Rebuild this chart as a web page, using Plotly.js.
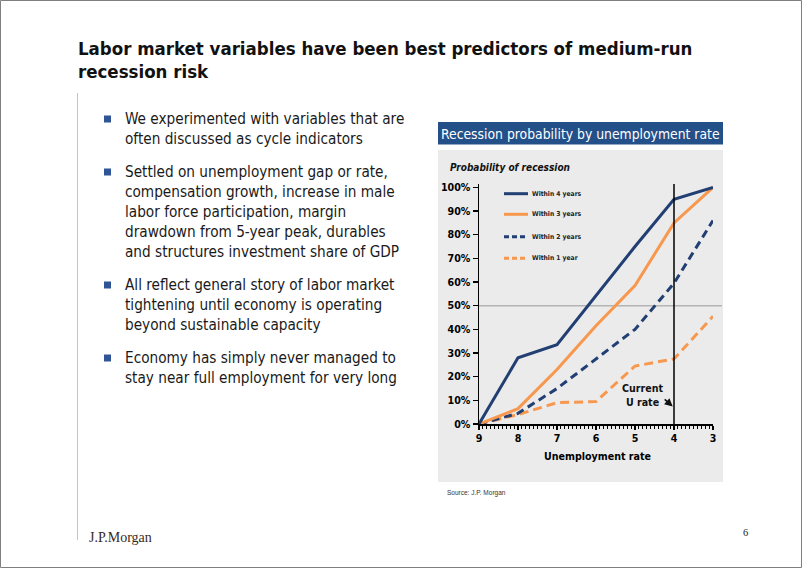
<!DOCTYPE html>
<html><head><meta charset="utf-8">
<script src="https://cdn.plot.ly/plotly-3.0.1.min.js"></script>
<style>html,body{margin:0;padding:0;background:#fff;} #chart{width:802px;height:568px;}</style>
</head><body><div id="chart"></div>
<script>
// ---- data ----
const unemploymentRate = [9, 8, 7, 6, 5, 4, 3];
const within4Years = [0, 0.28, 0.335, 0.545, 0.75, 0.95, 1.0];
const within3Years = [0, 0.065, 0.23, 0.415, 0.585, 0.85, 1.0];
const within2Years = [0, 0.045, 0.15, 0.275, 0.40, 0.595, 0.86];
const within1Year = [0, 0.04, 0.09, 0.095, 0.245, 0.275, 0.455];
const seriesNames = ['Within 4 years', 'Within 3 years', 'Within 2 years', 'Within 1 year'];
const xTickValues = [9, 8, 7, 6, 5, 4, 3];
const yTickValues = [0, 0.1, 0.2, 0.3, 0.4, 0.5, 0.6, 0.7, 0.8, 0.9, 1.0];
const currentURate = 4;
const thresholdLevel = 0.5;

const slideTitleLines = ['Labor market variables have been best predictors of medium-run', 'recession risk'];
const bulletGroups = [
  ['We experimented with variables that are', 'often discussed as cycle indicators'],
  ['Settled on unemployment gap or rate,', 'compensation growth, increase in male', 'labor force participation, margin', 'drawdown from 5-year peak, durables', 'and structures investment share of GDP'],
  ['All reflect general story of labor market', 'tightening until economy is operating', 'beyond sustainable capacity'],
  ['Economy has simply never managed to', 'stay near full employment for very long']
];
const chartTitle = 'Recession probability by unemployment rate';
const yAxisTitle = 'Probability of recession';
const xAxisTitle = 'Unemployment rate';
const currentLabel = 'Current<br>U rate';
const sourceText = 'Source: J.P. Morgan';
const logoText = 'J.P.Morgan';
const pageNumber = '6';

// ---- styling / geometry ----
const NAVY = '#213f72', ORANGE = '#f7984e';
const FONT = "'DejaVu Sans Condensed', 'DejaVu Sans', Verdana, sans-serif";
const L = 479, R = 713, T = 184, B = 424;
const W = R - L, H = B - T;
const px = x => (x - L) / W;
const py = y => (B - y) / H;
const yTop = H / 236.6;

const styles = [
  {color: NAVY, dash: 'solid'},
  {color: ORANGE, dash: 'solid'},
  {color: NAVY, dash: '8px,5px'},
  {color: ORANGE, dash: '9px,5px'}
];
const seriesValues = [within4Years, within3Years, within2Years, within1Year];

const traces = seriesValues.map((v, i) => ({
  x: unemploymentRate, y: v, type: 'scatter', mode: 'lines', name: seriesNames[i],
  line: {color: styles[i].color, width: 3, dash: styles[i].dash},
  showlegend: false, hoverinfo: 'skip'
}));
traces.reverse();

const shapes = [];
const annotations = [];

// page border and left rule
shapes.push({type: 'rect', xref: 'paper', yref: 'paper', x0: px(0.5), x1: px(801.5), y0: py(0.5), y1: py(567.5), line: {color: '#7f7f7f', width: 1}, layer: 'below'});
shapes.push({type: 'line', xref: 'paper', yref: 'paper', x0: px(77.5), x1: px(77.5), y0: py(93), y1: py(540), line: {color: '#bcc5d2', width: 1}, layer: 'below'});
// chart header and panel
shapes.push({type: 'rect', xref: 'paper', yref: 'paper', x0: px(438), x1: px(723), y0: py(122), y1: py(144.5), fillcolor: '#24508a', line: {width: 0}, layer: 'below'});
shapes.push({type: 'rect', xref: 'paper', yref: 'paper', x0: px(438), x1: px(723), y0: py(150), y1: py(482), fillcolor: '#ebebeb', line: {width: 0}, layer: 'below'});
// 50% line
shapes.push({type: 'line', xref: 'paper', yref: 'y', x0: 0, x1: px(722), y0: thresholdLevel, y1: thresholdLevel, line: {color: '#b4b4b4', width: 1.5}, layer: 'below'});
// current U rate line
shapes.push({type: 'line', xref: 'x', yref: 'y', x0: currentURate, x1: currentURate, y0: 0, y1: yTop, line: {color: '#000', width: 1.5}, layer: 'above'});

// legend (drawn manually)
const legendY = [193.7, 214.3, 236.7, 258.3];
seriesNames.forEach((n, i) => {
  shapes.push({type: 'line', xref: 'paper', yref: 'paper', x0: px(504), x1: px(528), y0: py(legendY[i]), y1: py(legendY[i]),
    line: {color: styles[i].color, width: 3, dash: i >= 2 ? '5px,3px' : 'solid'}});
  annotations.push({xref: 'paper', yref: 'paper', x: px(529.5), y: py(legendY[i]), xanchor: 'left', yanchor: 'middle', showarrow: false,
    text: n, font: {family: FONT, size: 6.7, color: '#222', weight: 'bold'}});
});

// slide title
const titleY = [48.5, 71.5];
slideTitleLines.forEach((t, i) => annotations.push({xref: 'paper', yref: 'paper', x: px(76), y: py(titleY[i]), xanchor: 'left', yanchor: 'middle', showarrow: false,
  text: t, font: {family: FONT, size: 18.5, color: '#111', weight: 'bold'}}));

// bullets
const groupStart = [119, 172, 285, 358];
bulletGroups.forEach((g, gi) => {
  const c = groupStart[gi];
  shapes.push({type: 'rect', xref: 'paper', yref: 'paper', x0: px(104), x1: px(111), y0: py(c - 3.5), y1: py(c + 3.5), fillcolor: '#2f5597', line: {width: 0}});
  g.forEach((t, li) => annotations.push({xref: 'paper', yref: 'paper', x: px(123), y: py(c + 20 * li), xanchor: 'left', yanchor: 'middle', showarrow: false,
    text: t, font: {family: FONT, size: 15.2, color: '#1a1a1a'}}));
});

// chart header text
annotations.push({xref: 'paper', yref: 'paper', x: px(580), y: py(133.5), xanchor: 'center', yanchor: 'middle', showarrow: false,
  text: chartTitle, font: {family: FONT, size: 13.8, color: '#fff'}});
// y axis title
annotations.push({xref: 'paper', yref: 'paper', x: px(448), y: py(167), xanchor: 'left', yanchor: 'middle', showarrow: false,
  text: '<i>' + yAxisTitle + '</i>', font: {family: FONT, size: 10, color: '#111', weight: 'bold'}});
// x axis title
annotations.push({xref: 'paper', yref: 'paper', x: px(597.5), y: py(455.5), xanchor: 'center', yanchor: 'middle', showarrow: false,
  text: xAxisTitle, font: {family: FONT, size: 10.6, color: '#000', weight: 'bold'}});
// current U rate
annotations.push({xref: 'paper', yref: 'paper', x: px(642), y: py(395), xanchor: 'center', yanchor: 'middle', showarrow: false,
  text: currentLabel, font: {family: FONT, size: 10.6, color: '#111', weight: 'bold'}});
annotations.push({xref: 'paper', yref: 'paper', x: px(672.7), y: py(406.5), text: '', showarrow: true, axref: 'pixel', ayref: 'pixel',
  ax: -9.5, ay: -8.5, arrowhead: 2, arrowsize: 1, arrowwidth: 1.6, arrowcolor: '#111', standoff: 0});
// source, logo, page number
annotations.push({xref: 'paper', yref: 'paper', x: px(445), y: py(493), xanchor: 'left', yanchor: 'middle', showarrow: false,
  text: sourceText, font: {family: "'Liberation Sans Narrow', 'Liberation Sans', sans-serif", size: 6.5, color: '#333'}});
annotations.push({xref: 'paper', yref: 'paper', x: px(87), y: py(537), xanchor: 'left', yanchor: 'middle', showarrow: false,
  text: logoText, font: {family: "'Liberation Serif', serif", size: 14, color: '#3a2a20'}});
annotations.push({xref: 'paper', yref: 'paper', x: px(745), y: py(532), xanchor: 'center', yanchor: 'middle', showarrow: false,
  text: pageNumber, font: {family: "'Liberation Serif', serif", size: 10.5, color: '#222'}});

const layout = {
  width: 802, height: 568,
  margin: {l: L, r: 802 - R, t: T, b: 568 - B, pad: 0},
  paper_bgcolor: '#fff', plot_bgcolor: 'rgba(0,0,0,0)',
  showlegend: false,
  xaxis: {
    range: [9, 3], autorange: false, tickmode: 'array', tickvals: xTickValues, ticktext: xTickValues.map(String),
    ticks: 'outside', ticklen: 4, tickwidth: 1.3, tickcolor: '#000', ticklabelstandoff: 0,
    minor: {tick0: 3, dtick: 0.1, ticks: 'outside', ticklen: 3, tickwidth: 1, tickcolor: '#000'},
    showline: true, linecolor: '#000', linewidth: 1.5, showgrid: false, zeroline: false,
    tickfont: {family: FONT, size: 10.6, color: '#000', weight: 'bold'}
  },
  yaxis: {
    range: [0, yTop], autorange: false, tickmode: 'array', tickvals: yTickValues, tickformat: '.0%',
    ticks: 'outside', ticklen: 5, tickwidth: 1.3, tickcolor: '#000',
    showline: true, linecolor: '#000', linewidth: 1.5, showgrid: false, zeroline: false,
    tickfont: {family: FONT, size: 10.6, color: '#000', weight: 'bold'}
  },
  shapes: shapes,
  annotations: annotations
};

Plotly.newPlot('chart', traces, layout, {staticPlot: true, displayModeBar: false});
</script>
</body></html>
